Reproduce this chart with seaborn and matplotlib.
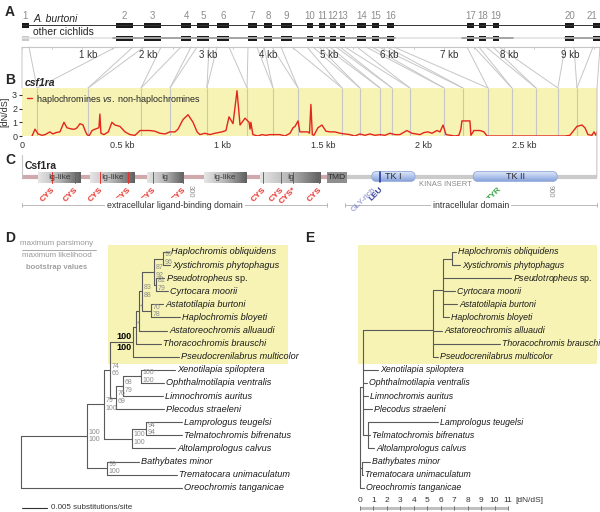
import numpy as np
import pandas as pd
import matplotlib
matplotlib.use('Agg')
import matplotlib.pyplot as plt
import seaborn as sns
from matplotlib.patches import Rectangle, FancyBboxPatch, ConnectionPatch
from matplotlib.colors import LinearSegmentedColormap

sns.set_style('white')
plt.rcParams['font.family'] = ['Liberation Sans', 'DejaVu Sans']
plt.rcParams['mathtext.fontset'] = 'custom'
plt.rcParams['mathtext.it'] = 'Liberation Sans:italic'
plt.rcParams['mathtext.rm'] = 'Liberation Sans'

# ---------------- data ----------------
# A: exons on the genomic locus (bp)
exon_start = [0, 1560, 2025, 2639, 2905, 3237, 3751, 4017, 4299, 4730, 4929,
              5112, 5278, 5560, 5809, 6058, 7386, 7585, 7817, 9012, 9477]
exon_end = [116, 1842, 2307, 2805, 3104, 3436, 3900, 4149, 4481, 4830, 5029,
            5212, 5361, 5710, 5925, 6174, 7502, 7701, 7917, 9162, 9650]
other_cov = [(1510, 6190), (7303, 8149), (9012, 9650)]
kb_marks = [1, 2, 3, 4, 5, 6, 7, 8, 9]
# exon boundaries on the coding sequence (kb)
cds_bounds = [0, 0.075, 0.329, 0.593, 0.737, 0.921, 1.121, 1.250, 1.375, 1.594,
              1.683, 1.783, 1.843, 1.932, 2.102, 2.196, 2.321, 2.440, 2.560,
              2.669, 2.764, 2.864]

# B: sliding window dN/dS
dnds_kb = [0.05, 0.065, 0.08, 0.10, 0.115, 0.139, 0.154, 0.17, 0.189, 0.209,
           0.224, 0.249, 0.264, 0.274, 0.289, 0.304, 0.314, 0.324, 0.334, 0.349,
           0.364, 0.383, 0.388, 0.393, 0.408, 0.43, 0.448, 0.463, 0.488, 0.513,
           0.538, 0.563, 0.588, 0.637, 0.662, 0.687, 0.712, 0.737, 0.762, 0.777,
           0.802, 0.827, 0.852, 0.872, 0.886, 0.911, 0.936, 0.961, 0.996, 1.016,
           1.031, 1.051, 1.071, 1.086, 1.111, 1.131, 1.136, 1.140, 1.150, 1.175,
           1.195, 1.215, 1.235, 1.285, 1.310, 1.335, 1.350, 1.360, 1.375, 1.384,
           1.40, 1.424, 1.432, 1.439, 1.446, 1.454, 1.474, 1.494, 1.514, 1.535,
           1.559, 1.584, 1.633, 1.658, 1.683, 1.708, 1.733, 1.758, 1.783, 1.808,
           1.833, 1.858, 1.882, 1.917, 1.942, 1.982, 2.002, 2.022, 2.042, 2.067,
           2.082, 2.097, 2.112, 2.156, 2.176, 2.186, 2.191, 2.231, 2.236, 2.251,
           2.281, 2.301, 2.316, 2.48, 2.704, 2.729, 2.764, 2.789, 2.804, 2.819,
           2.839, 2.849, 2.859, 2.864]
dnds_val = [0.0, 0.5, 0.15, 0.05, 0.1, 0.3, 0.15, 0.25, 0.3, 1.0,
            0.6, 0.5, 0.5, 0.6, 0.9, 0.8, 0.4, 0.1, 0.0, 0.4,
            0.5, 0.6, 1.6, 0.2, 0.1, 0.3, 1.0, 0.8, 0.7, 0.3,
            0.1, 0.05, 0.4, 0.4, 0.35, 0.2, 0.15, 0.3, 0.3, 0.5,
            1.2, 1.55, 1.0, 0.3, 0.1, 0.2, 0.1, 0.2, 0.3, 0.4,
            1.4, 0.9, 3.3, 0.8, 1.3, 1.0, 0.5, 1.0, 0.1, 0.0,
            0.1, 0.05, 0.1, 0.1, 0.0, 0.2, 0.6, 0.7, 1.1, 0.3,
            0.3, 0.3, 0.2, 2.3, 0.1, 0.05, 0.6, 0.8, 0.35, 0.3,
            0.3, 0.2, 0.1, 0.0, 0.15, 0.05, 0.15, 0.05, 0.1, 0.05,
            0.2, 0.1, 0.1, 0.4, 0.2, 0.1, 0.25, 0.3, 0.2, 0.4,
            0.3, 0.8, 0.1, 0.0, 0.05, 0.5, 1.1, 1.1, 0.05, 0.4,
            0.4, 0.3, 0.0, 0.0, 0.0, 0.05, 0.7, 0.8, 0.6, 0.1,
            0.05, 0.3, 0.05, 0.3]
b_ticks = [0, 0.5, 1, 1.5, 2, 2.5]
b_ticklabels = ['0', '0.5 kb', '1 kb', '1.5 kb', '2 kb', '2.5 kb']

# C: protein domains (amino acids)
prot_start, prot_len = 20, 978
ig_domains = [('Ig-like', 47, 118), ('Ig-like', 133, 207), ('Ig', 228, 288),
              ('Ig-like', 323, 393), ('Ig', 417, 518)]
tmd = (528, 562)
tk_domains = [('TK I', 603, 675), ('TK II', 772, 912)]
cys_pos = [70, 108, 150, 197, 238, 288, 422, 452, 472, 515]
cys_names = ['CYS'] * 8 + ['CYS*', 'CYS']
site_pos = [606, 617, 815]
site_names = ['GLY-rich', 'LEU', 'TYR']
site_colors = ['#7f86c8', '#2b3a9c', '#3aa04a']
aa_marks = [300, 900]

# D / E: trees
taxa = ['Haplochromis obliquidens', 'Xystichromis phytophagus', 'Pseudotropheus sp.',
        'Cyrtocara moorii', 'Astatotilapia burtoni', 'Haplochromis bloyeti',
        'Astatoreochromis alluaudi', 'Thoracochromis brauschi', 'Pseudocrenilabrus multicolor',
        'Xenotilapia spiloptera', 'Ophthalmotilapia ventralis', 'Limnochromis auritus',
        'Plecodus straeleni', 'Lamprologus teugelsi', 'Telmatochromis bifrenatus',
        'Altolamprologus calvus', 'Bathybates minor', 'Trematocara unimaculatum',
        'Oreochromis tanganicae']
# substitutions/site from root
d_tip_depth = [0.0296, 0.0298, 0.0286, 0.0294, 0.0284, 0.0318, 0.0292, 0.0280, 0.0316,
               0.0308, 0.0286, 0.0284, 0.0286, 0.0322, 0.0322, 0.0308, 0.0236, 0.0312, 0.0322]
d_nodes = {
    'W': (0.0284, ['Haplochromis obliquidens', 'Xystichromis phytophagus'], '99', '96'),
    'Y': (0.0270, ['Pseudotropheus sp.', 'Cyrtocara moorii'], '81', '79'),
    'U': (0.0266, ['W', 'Y'], '87', '92'),
    'T': (0.0260, ['Astatotilapia burtoni', 'Haplochromis bloyeti'], '70', '78'),
    'S': (0.0242, ['U', 'T'], '83', '88'),
    'R': (0.0236, ['S', 'Astatoreochromis alluaudi'], '*', ''),
    'Q': (0.0230, ['R', 'Thoracochromis brauschi'], '*', ''),
    'P': (0.0224, ['Q', 'Pseudocrenilabrus multicolor'], '100', '100'),
    'E': (0.0240, ['Xenotilapia spiloptera', 'Ophthalmotilapia ventralis'], '100', '100'),
    'F': (0.0204, ['E', 'Limnochromis auritus'], '68', '79'),
    'G': (0.0190, ['F', 'Plecodus straeleni'], '76', '69'),
    'C': (0.0178, ['P', 'G'], '74', '66'),
    'M': (0.0250, ['Lamprologus teugelsi', 'Telmatochromis bifrenatus'], '94', '94'),
    'L': (0.0222, ['M', 'Altolamprologus calvus'], '100', '100'),
    'B': (0.0166, ['C', 'L'], '79', '100'),
    'BT': (0.0172, ['Bathybates minor', 'Trematocara unimaculatum'], '99', '100'),
    'A': (0.0132, ['B', 'BT'], '100', '100'),
    'root': (0.0, ['A', 'Oreochromis tanganicae'], '', ''),
}
# dN/dS branch lengths
e_tip_depth = [7.14, 7.43, 11.23, 7.06, 7.21, 6.62, 6.10, 10.40, 5.80,
               1.34, 0.52, 0.59, 0.89, 5.80, 0.74, 1.04, 0.74, 0.22, 0.30]
e_nodes = {
    'Hz': (6.84, ['Haplochromis obliquidens', 'Xystichromis phytophagus']),
    'Hy': (6.17, ['Hz', 'Pseudotropheus sp.', 'Cyrtocara moorii',
                  'Astatotilapia burtoni', 'Haplochromis bloyeti']),
    'Hx': (5.43, ['Hy', 'Astatoreochromis alluaudi', 'Thoracochromis brauschi',
                  'Pseudocrenilabrus multicolor']),
    'Le': (0.59, ['Lamprologus teugelsi', 'Telmatochromis bifrenatus', 'Altolamprologus calvus']),
    'Be': (0.22, ['Hx', 'Xenotilapia spiloptera', 'Ophthalmotilapia ventralis',
                  'Limnochromis auritus', 'Plecodus straeleni', 'Le']),
    'BTe': (0.15, ['Bathybates minor', 'Trematocara unimaculatum']),
    'root': (0.0, ['Be', 'BTe', 'Oreochromis tanganicae']),
}
e_scale = list(range(12))

# ---------------- figure ----------------
YELLOW = '#f6f3b4'
GREY = '#8c8c8c'
LINE = '#c6c6c6'

fig = plt.figure(figsize=(6, 5.12), dpi=100)


def px_axes(x0, y0, x1, y1):
    return fig.add_axes([x0 / 600, 1 - y1 / 512, (x1 - x0) / 600, (y1 - y0) / 512])


axA = px_axes(0, 8, 600, 60)
axB = px_axes(22, 88, 597, 136)
axC = px_axes(0, 155, 600, 215)
axD = px_axes(0, 240, 300, 512)
axE = px_axes(300, 240, 600, 512)

for lab, x, y in [('A', 5, 12), ('B', 5, 80), ('C', 5, 160), ('D', 5, 238), ('E', 305, 238)]:
    fig.text(x / 600, 1 - y / 512, lab, fontsize=10, fontweight='bold', va='center')

# ---- A ----
A_MAX = 9593
axA.set_xlim(-365, A_MAX)
axA.set_ylim(60, 8)
axA.axis('off')
axA.plot([0, 9650], [25, 25], color='#333333', lw=0.7)
axA.plot([0, 9650], [38, 38], color='#e2e2e2', lw=1.2)
for a, b in other_cov:
    axA.plot([a, b], [38, 38], color='#9a9a9a', lw=1.2)
for i, (a, b) in enumerate(zip(exon_start, exon_end)):
    axA.add_patch(Rectangle((a, 22.5), b - a, 5, color='#1a1a1a', lw=0))
    axA.add_patch(Rectangle((a, 35.5), b - a, 5, color='#c8c8c8' if i == 0 else '#1a1a1a', lw=0))
    axA.text(min((a + b) / 2, A_MAX - 140), 16, str(i + 1), ha='center', va='center',
             fontsize=7, color=GREY)
axA.text(183, 19.5, 'A. burtoni', style='italic', fontsize=7.5, va='center')
axA.text(183, 32, 'other cichlids', fontsize=7.5, va='center')
axA.plot([0, A_MAX], [47, 47], color=LINE, lw=0.8)
for t in np.arange(0, 9600, 500):
    axA.plot([t, t], [47, 49], color=LINE, lw=0.6)
for k in kb_marks:
    axA.annotate(f'{k} kb', (k * 1000, 55), xytext=(4, 0), textcoords='offset points',
                 ha='center', va='center', fontsize=7, color='#333333')

# ---- B ----
dn = pd.DataFrame({'kb': dnds_kb, 'dnds': dnds_val})
axB.set_facecolor(YELLOW)
axB.vlines(cds_bounds[1:-1], 0, 3.5, color=LINE, lw=0.8, zorder=1)
sns.lineplot(data=dn, x='kb', y='dnds', ax=axB, color='#e3261c', lw=1, estimator=None,
             label='haplochromines $\\mathit{vs.}$ non-haplochromines', zorder=3)
axB.set_xlim(0, cds_bounds[-1])
axB.set_ylim(0, 3.5)
axB.set_xticks(b_ticks, b_ticklabels)
axB.set_yticks([0, 1, 2, 3])
axB.tick_params(length=2, labelsize=6.5, pad=1.5, colors='#333333', left=True, bottom=False)
axB.set_xlabel('')
axB.set_ylabel('[dN/dS]', fontsize=6.5, labelpad=2)
for s in axB.spines.values():
    s.set_visible(False)
axB.legend(loc='upper left', frameon=False, fontsize=6.5, handlelength=0.6,
           handletextpad=0.4, borderaxespad=0.3, borderpad=0.2)
fig.text(25 / 600, 1 - 83 / 512, 'csf1ra', fontsize=7.5, fontweight='bold', style='italic', va='center')

# connections exon boundaries -> CDS
for i, (a, b) in enumerate(zip(exon_start, exon_end)):
    for g, c in [(a, cds_bounds[i]), (min(b, A_MAX), cds_bounds[i + 1])]:
        fig.add_artist(ConnectionPatch(xyA=(g, 47), coordsA=axA.transData,
                                       xyB=(c, 3.5), coordsB=axB.transData,
                                       color=LINE, lw=0.7, zorder=0))

# ---- C ----
axC.set_xlim(-16.67, 983.3)
axC.set_ylim(215, 155)
axC.axis('off')
fig.add_artist(ConnectionPatch(xyA=(cds_bounds[-1], 3.5), coordsA=axB.transData,
                               xyB=(prot_len, 177), coordsB=axC.transData, color=LINE, lw=0.8))
axC.plot([prot_start, prot_start], [150, 177], color=LINE, lw=0.8)
fig.text(25 / 600, 1 - 166 / 512, 'Csf1ra', fontsize=7.5, fontweight='bold', va='center')
axC.plot([prot_start, tmd[0]], [177, 177], color='#cfa9ac', lw=3, solid_capstyle='butt', zorder=1)
axC.plot([tmd[1], prot_len], [177, 177], color='#cbcbcb', lw=3, solid_capstyle='butt', zorder=1)
grey_cm = LinearSegmentedColormap.from_list('g', ['#e6e6e6', '#b4b4b4', '#5f5f5f'])
blue_cm = LinearSegmentedColormap.from_list('b', ['#e3eaf8', '#b6c8ee', '#8aa4dc'])
hgrad = np.linspace(0, 1, 64).reshape(1, -1)
vgrad = np.linspace(0, 1, 32).reshape(-1, 1)
for name, a, b in ig_domains:
    axC.imshow(hgrad, extent=(a, b, 183, 172), cmap=grey_cm, aspect='auto', zorder=2)
    axC.text((a + b) / 2, 177.5, name, ha='center', va='center', fontsize=6, color='#3a3a3a', zorder=4)
axC.add_patch(Rectangle((tmd[0], 172), tmd[1] - tmd[0], 11, color='#8e8e8e', lw=0, zorder=2))
axC.text(sum(tmd) / 2, 177.5, 'TMD', ha='center', va='center', fontsize=6, color='#2a2a2a', zorder=4)
for name, a, b in tk_domains:
    box = FancyBboxPatch((a, 171.5), b - a, 10, boxstyle='round,pad=0,rounding_size=8',
                         mutation_aspect=0.6, fc='none', ec='#8fa7d8', lw=0.6, zorder=3)
    axC.add_patch(box)
    im = axC.imshow(vgrad, extent=(a, b, 181.5, 171.5), cmap=blue_cm, aspect='auto', zorder=2)
    im.set_clip_path(box)
    axC.text((a + b) / 2, 176.5, name, ha='center', va='center', fontsize=6.5, color='#2a2a2a', zorder=4)
axC.text(725, 184, 'KINAS INSERT', ha='center', va='center', fontsize=5.5, color='#8a8a8a')
for c, nm in zip(cys_pos, cys_names):
    axC.plot([c, c], [172, 183], color='#e8302a', lw=0.7, zorder=3)
    axC.annotate(nm, (c, 186), xytext=(3, 0), textcoords='offset points', rotation=45,
                 ha='right', va='top', fontsize=6, fontweight='bold', color='#e8302a')
axC.plot([site_pos[1], site_pos[1]], [171.5, 181.5], color='#2b3a9c', lw=1.2, zorder=3)
for p, nm, col in zip(site_pos, site_names, site_colors):
    axC.annotate(nm, (p, 186), xytext=(3, 0), textcoords='offset points', rotation=45,
                 ha='right', va='top', fontsize=6, fontweight='bold' if nm != 'GLY-rich' else 'normal',
                 color=col)
for m in aa_marks:
    axC.text(m, 185, str(m), rotation=270, ha='center', va='top', fontsize=5.5, color=GREY)
for a, b, lab, mid in [(prot_start, tmd[0], 'extracellular ligand-binding domain', 275),
                       (558, prot_len, 'intracellular domain', 768)]:
    axC.plot([a, b], [205, 205], color='#b0b0b0', lw=0.6)
    axC.plot([a, a], [203, 207], color='#b0b0b0', lw=0.6)
    axC.plot([b, b], [203, 207], color='#b0b0b0', lw=0.6)
    axC.text(mid, 205, lab, ha='center', va='center', fontsize=6.3, color='#333333',
             bbox=dict(fc='white', ec='none', pad=1.5))


# ---- trees ----
def layout(nodes, tip_depth, root):
    ypos = {t: i for i, t in enumerate(taxa)}
    xpos = dict(zip(taxa, tip_depth))

    def place(n):
        if n not in ypos:
            ypos[n] = np.mean([place(k) for k in nodes[n][1]])
            xpos[n] = nodes[n][0]
        return ypos[n]
    place(root)
    return xpos, ypos


def draw_tree(ax, nodes, xpos, ypos, color, fs):
    for n, spec in nodes.items():
        kids = spec[1]
        ys = [ypos[k] for k in kids]
        ax.plot([xpos[n]] * 2, [min(ys), max(ys)], color=color, lw=0.8)
        for k in kids:
            ax.plot([xpos[n], xpos[k]], [ypos[k]] * 2, color=color, lw=0.8)
    for t in taxa:
        if t.endswith(' sp.'):
            txt, st = '$\\mathit{' + t[:-4] + '}$ sp.', 'normal'
        else:
            txt, st = t, 'italic'
        ax.annotate(txt, (xpos[t], ypos[t]), xytext=(1.5, 0), textcoords='offset points',
                    va='center', style=st, fontsize=fs, color='#1a1a1a')


ylim = (19.85, -0.916)

axD.set_xlim(-0.0042, 0.0558)
axD.set_ylim(*ylim)
axD.axis('off')
axD.add_patch(Rectangle((0.0174, -0.53), 0.036, 9.08, color=YELLOW, lw=0, zorder=0))
dx, dy = layout(d_nodes, d_tip_depth, 'root')
draw_tree(axD, d_nodes, dx, dy, '#5a5a5a', 6.6)
for n, (d, kids, mp, ml) in d_nodes.items():
    if n == 'P':
        for s, off, va in [(mp, 0.6, 'bottom'), (ml, -0.6, 'top')]:
            axD.annotate(s, (dx[n], dy[n]), xytext=(-1, off), textcoords='offset points',
                         ha='right', va=va, fontsize=6.5, fontweight='bold', color='black')
        continue
    if mp:
        axD.annotate(mp, (dx[n], dy[n]), xytext=(1, 0.2), textcoords='offset points',
                     ha='left', va='bottom', fontsize=5, color=GREY)
    if ml:
        axD.annotate(ml, (dx[n], dy[n]), xytext=(1, -0.2), textcoords='offset points',
                     ha='left', va='top', fontsize=5, color=GREY)
axD.text(0.0072, -0.35, 'maximum parsimony', ha='center', va='bottom', fontsize=5.8, color='#999999')
axD.plot([0.0002, 0.0150], [-0.15, -0.15], color='#999999', lw=0.6)
axD.text(0.0072, 0.0, 'maximum likelihood', ha='center', va='top', fontsize=5.8, color='#999999')
axD.text(0.0072, 1.2, 'bootstrap values', ha='center', va='center', fontsize=5.5,
         fontweight='bold', color='#a0a0a0')
axD.plot([0.0002, 0.0052], [19.54, 19.54], color='#333333', lw=0.8)
axD.annotate('0.005 substitutions/site', (0.0052, 19.54), xytext=(3, 0), textcoords='offset points',
             va='center', fontsize=5.8, color='#333333')

axE.set_xlim(-4.46, 17.84)
axE.set_ylim(*ylim)
axE.axis('off')
axE.add_patch(Rectangle((-0.15, -0.53), 17.75, 9.08, color=YELLOW, lw=0, zorder=0))
ex, ey = layout(e_nodes, e_tip_depth, 'root')
draw_tree(axE, e_nodes, ex, ey, '#5a5a5a', 6.3)
axE.plot([e_scale[0], e_scale[-1]], [19.54, 19.54], color='#c0c0c0', lw=2.2, solid_capstyle='butt')
for v in e_scale:
    axE.plot([v, v], [19.4, 19.68], color='#555555', lw=0.5)
    axE.text(v, 19.0, str(v), ha='center', va='center', fontsize=6, color='#333333')
axE.annotate('[dN/dS]', (e_scale[-1], 19.0), xytext=(5, 0), textcoords='offset points',
             ha='left', va='center', fontsize=6, color='#333333')

fig.savefig('out.png', dpi=100)
